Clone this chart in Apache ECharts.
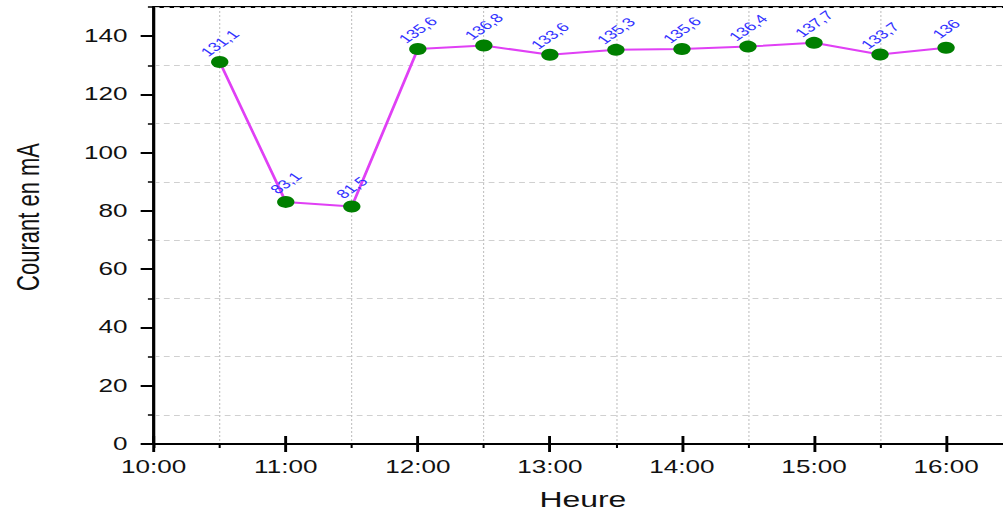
<!DOCTYPE html>
<html>
<head>
<meta charset="utf-8">
<script src="https://cdn.jsdelivr.net/npm/echarts@6/dist/echarts.min.js"></script>
<style>
    html, body { margin: 0; padding: 0; background: #fff; overflow: hidden; }
    #frame { position: fixed; left: 0; top: 0; width: 1003px; height: 515px; overflow: hidden; background: #fff; }
    /* the reference picture is stretched sideways, so the chart is drawn narrower and scaled;
       it runs a little past the right edge of the window, like the original */
    #chart { width: 698px; height: 515px; transform: scaleX(1.45); transform-origin: 0 0; }
</style>
</head>
<body>
<div id="frame"><div id="chart"></div></div>
<script>
const heures = ['10:30', '11:00', '11:30', '12:00', '12:30', '13:00',
    '13:30', '14:00', '14:30', '15:00', '15:30', '16:00'];
const courant = [131.1, 83.1, 81.5, 135.6, 136.8, 133.6,
    135.3, 135.6, 136.4, 137.7, 133.7, 136];

const font = '"Liberation Sans", Arial, sans-serif';

// '10:30' -> 10.5
const toHours = t => {
    const [h, m] = t.split(':').map(Number);
    return h + m / 60;
};

const data = heures.map((t, i) => [toHours(t), courant[i]]);

const chart = echarts.init(document.getElementById('chart'), null, { renderer: 'svg' });

const black = '#000';

chart.setOption({
    animation: false,
    grid: {
        left: 102.5,
        right: 0,
        top: 7,
        bottom: 70,
        show: true,
        borderColor: black,
        borderWidth: 2
    },
    xAxis: [
        {
            type: 'value',
            position: 'bottom',
            min: 10,
            max: 16.5,
            interval: 1,
            axisLine: { show: true, onZero: false, lineStyle: { color: black, width: 2 } },
            axisTick: { show: true, length: 8, lineStyle: { color: black, width: 2 } },
            axisLabel: {
                margin: 14,
                fontSize: 18,
                fontFamily: font,
                color: '#111',
                showMaxLabel: false,
                formatter: v => `${v}:00`
            },
            splitLine: { show: false },
            name: 'Heure',
            nameLocation: 'middle',
            nameGap: 44,
            nameTextStyle: { fontSize: 22, fontFamily: font, color: '#111' }
        },
        {
            // inner half of the crossing hour ticks
            type: 'value',
            position: 'bottom',
            min: 10,
            max: 16.5,
            interval: 1,
            axisLine: { show: false, onZero: false },
            axisTick: { show: true, inside: true, length: 8, lineStyle: { color: black, width: 2 } },
            axisLabel: { show: false },
            splitLine: { show: false }
        },
        {
            // half-hour minor ticks + vertical grid, counted from the right end
            type: 'value',
            position: 'bottom',
            inverse: true,
            min: 0,
            max: 6.5,
            interval: 1,
            axisLine: { show: false, onZero: false },
            axisTick: { show: true, length: 4, lineStyle: { color: black, width: 1.4 } },
            axisLabel: { show: false },
            splitLine: { show: true, lineStyle: { color: '#c4c4c4', type: [2, 2], width: 0.8 } }
        }
    ],
    yAxis: [
        {
            type: 'value',
            position: 'left',
            min: 0,
            max: 150,
            interval: 20,
            axisLine: { show: true, onZero: false, lineStyle: { color: black, width: 2 } },
            axisTick: { show: true, length: 9, lineStyle: { color: black, width: 2 } },
            axisLabel: {
                margin: 18,
                fontSize: 18,
                fontFamily: font,
                color: '#111',
                showMaxLabel: false
            },
            splitLine: { show: false },
            name: 'Courant en mA',
            nameLocation: 'middle',
            nameGap: 76,
            nameTextStyle: { fontSize: 22, fontFamily: font, color: '#111', padding: [0, 0, 0, 17] }
        },
        {
            // minor ticks + horizontal grid at 10, 30, ... counted from the top
            type: 'value',
            position: 'left',
            inverse: true,
            min: 0,
            max: 150,
            interval: 20,
            axisLine: { show: false, onZero: false },
            axisTick: { show: true, length: 4, lineStyle: { color: black, width: 1.5 } },
            axisLabel: { show: false },
            splitLine: { show: true, lineStyle: { color: '#d0d0d0', type: [4, 3], width: 1 } }
        }
    ],
    series: [
        {
            type: 'line',
            xAxisIndex: 0,
            yAxisIndex: 0,
            data,
            symbol: 'circle',
            symbolSize: 12,
            itemStyle: { color: '#007f00' },
            lineStyle: { color: '#e040f5', width: 2 },
            label: {
                show: true,
                position: 'top',
                distance: 13,
                rotate: 45,
                align: 'center',
                verticalAlign: 'middle',
                fontSize: 12.5,
                fontFamily: font,
                color: '#3333ff',
                formatter: p => String(p.value[1]).replace('.', ',')
            }
        }
    ]
});
</script>
</body>
</html>
